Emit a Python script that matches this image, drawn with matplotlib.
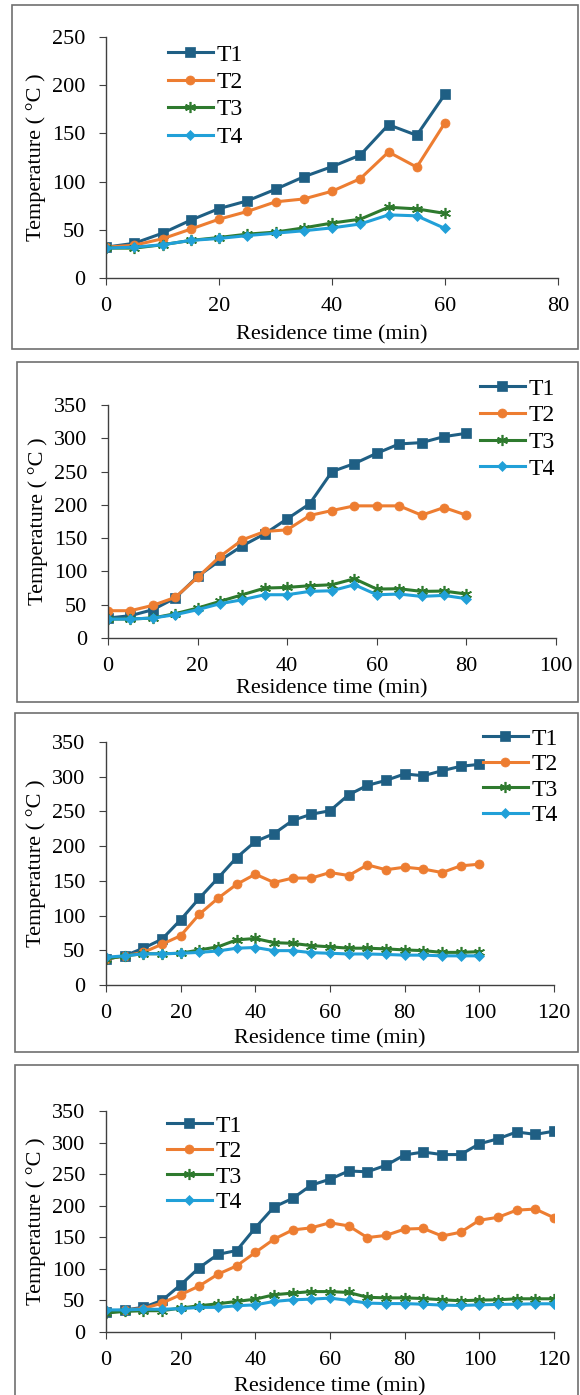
import numpy as np
import matplotlib
matplotlib.use("Agg")
import matplotlib.pyplot as plt
from matplotlib.patches import Rectangle

plt.rcParams['font.family'] = ['Liberation Serif', 'DejaVu Serif']

# datos de cada panel (tiempo de residencia en min, temperaturas en C)
t_a = list(range(0, 61, 5))
a_T1 = [32, 36, 46.5, 60, 72, 80, 92, 105, 115.5, 127.5, 159, 148, 190.7]
a_T2 = [32, 34, 40.7, 50.7, 61, 69, 79, 82, 90, 103, 130.7, 115, 161]
a_T3 = [31, 31, 34.5, 39, 42, 45.5, 47.6, 52, 57, 61, 73.4, 71.7, 67]
a_T4 = [31, 32, 34.5, 39, 41, 44, 46.5, 49, 52, 56, 65.5, 64.5, 51.4]

t_b = list(range(0, 81, 5))
b_T1 = [30, 33.5, 42.5, 60, 92.5, 116.5, 138.5, 156.5, 179, 201.5, 250, 262, 277.5, 291.5, 293.5, 302.5, 307.5]
b_T2 = [41, 41, 49, 61, 91, 122.5, 147.5, 160, 162.5, 184, 191.5, 198.5, 198.5, 198.5, 184.5, 196, 184.5]
b_T3 = [28.5, 28.5, 30, 36.5, 45, 55, 65, 75, 76, 78.5, 80, 89, 73.5, 74, 70, 70.5, 66]
b_T4 = [28.5, 28.5, 30, 35, 42.5, 51.5, 57.5, 65, 65, 70, 71, 80, 65, 66, 62.5, 64, 59]

t_c = list(range(0, 101, 5))
c_T1 = [37.5, 42, 53, 66, 94, 125, 154, 183.6, 206.7, 218, 237, 246, 251, 274, 287.5, 294.7, 304, 301.4, 308.6, 315, 317.8]
c_T2 = [37.5, 42, 47, 58.7, 71, 102, 125, 145, 159.6, 147.6, 154, 154, 162, 157.7, 173, 166, 169.7, 167, 162, 171.6, 174]
c_T3 = [37.5, 42, 45, 45, 45.7, 50.5, 55, 65, 67, 61, 60, 56.7, 55, 53, 53, 52, 50.5, 49.5, 47, 47, 48]
c_T4 = [40, 42, 45, 45, 45.7, 47, 49, 53, 54, 49.5, 49.5, 46.6, 45.7, 44.7, 44.7, 44, 43, 43, 42, 42, 42]

t_d = list(range(0, 121, 5))
d_T1 = [31, 35, 39, 50, 74.7, 102, 123, 129, 165, 198, 211.6, 232.6, 242, 255, 253.7, 264, 280.5, 285, 281, 281, 298, 306, 316.8, 313, 318]
d_T2 = [32.6, 35, 37, 45.8, 59, 73, 91.6, 104.7, 126, 147, 161.6, 165, 173, 168, 149.5, 153, 163, 164, 152, 158, 177, 181.6, 193, 194.7, 181]
d_T3 = [30, 32.6, 33.7, 33.7, 37.9, 41.6, 44.7, 48.4, 52, 59, 61.6, 64, 64, 62.6, 55, 54, 54, 53, 51, 49.5, 50.5, 51, 52.6, 52.6, 52.6]
d_T4 = [35, 35, 36, 36, 37, 39, 39, 41.6, 43, 48.4, 51, 52, 53.7, 50, 45.8, 45, 45, 44, 42.6, 42, 43, 43.7, 44, 44.7, 44.7]

labels = ["T1", "T2", "T3", "T4"]
colores = ["#1F5F84", "#ED7D31", "#2E7A2E", "#21A0D8"]
marcas = ["s", "o", (6, 2, 0), "D"]
tam = [6.5, 6.5, 8, 5]

W, H = 580, 1395
fig = plt.figure(figsize=(W / 100, H / 100), dpi=100)

def px_axes(l, r, t, b):
    return fig.add_axes([l / W, 1 - b / H, (r - l) / W, (b - t) / H])

def caja(l, r, t, b):
    fig.patches.append(Rectangle((l / W, 1 - b / H), (r - l) / W, (b - t) / H,
                                 transform=fig.transFigure, fill=False,
                                 edgecolor="#707070", linewidth=1.2))

# (tiempos, series, ejes px, xmax, ymax, caja px, leyenda px, espaciado leyenda, labelpad x)
paneles = [
    (t_a, [a_T1, a_T2, a_T3, a_T4], (106, 558, 37, 278), 80, 250, (12, 578, 5, 349), (168, 44), 0.25, 6),
    (t_b, [b_T1, b_T2, b_T3, b_T4], (108, 556, 405, 638), 100, 350, (17, 578, 362, 702), (480, 378), 0.22, 2),
    (t_c, [c_T1, c_T2, c_T3, c_T4], (106, 554, 742, 985), 120, 350, (15, 578, 713, 1052), (483, 728), 0.17, 4),
    (t_d, [d_T1, d_T2, d_T3, d_T4], (106, 554, 1111, 1332), 120, 350, (15, 578, 1065, 1410), (167, 1115), 0.17, 5),
]

for t, series, pos, xmax, ymax, box, leg, esp, lp in paneles:
    caja(*box)
    ax = px_axes(*pos)
    for s, lab, c, m, ms in zip(series, labels, colores, marcas, tam):
        ax.plot(t, s, color=c, marker=m, markersize=ms, linewidth=2.2,
                markeredgewidth=1.2 if m == marcas[2] else 0.5, label=lab)
    ax.set_xlim(0, xmax)
    ax.set_ylim(0, ymax)
    ax.set_xticks(np.arange(0, xmax + 1, 20))
    ax.set_yticks(np.arange(0, ymax + 1, 50))
    for lado in ["top", "right"]:
        ax.spines[lado].set_visible(False)
    for lado in ["left", "bottom"]:
        ax.spines[lado].set_color("#404040")
        ax.spines[lado].set_linewidth(1.0)
    ax.tick_params(axis="both", labelsize=16, direction="out", length=5,
                   color="#404040")
    ax.tick_params(axis="x", pad=9)
    ax.tick_params(axis="y", pad=10)
    ax.set_xlabel("Residence time (min)", fontsize=16, labelpad=lp)
    ax.set_ylabel("Temperature ( °C )", fontsize=16, labelpad=4)
    ax.legend(loc="upper left", bbox_to_anchor=(leg[0] / W, 1 - leg[1] / H),
              bbox_transform=fig.transFigure, frameon=False, fontsize=17,
              handlelength=1.9, handletextpad=0.15, labelspacing=esp,
              borderpad=0, borderaxespad=0)

fig.savefig("out.png", dpi=100)
